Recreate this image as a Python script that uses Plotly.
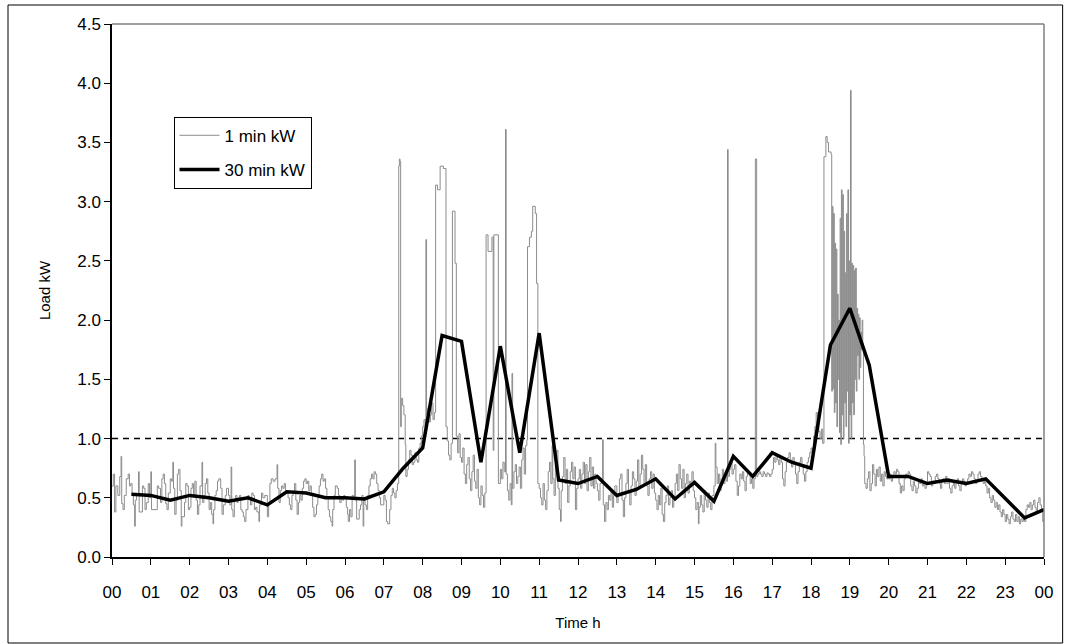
import plotly.graph_objects as go

# Half-hourly mean demand, stamped at the end of each 30 min interval (hours)
half_hour_end = [0.5 * (i + 1) for i in range(48)]
kw_30min = [
    0.53, 0.52, 0.48, 0.52, 0.50, 0.47, 0.50, 0.44, 0.55, 0.54, 0.50, 0.50,
    0.49, 0.55, 0.75, 0.92, 1.87, 1.82, 0.80, 1.78, 0.88, 1.89, 0.65, 0.62,
    0.68, 0.52, 0.57, 0.66, 0.49, 0.63, 0.47, 0.85, 0.68, 0.88, 0.80, 0.75,
    1.79, 2.10, 1.62, 0.68, 0.68, 0.62, 0.65, 0.62, 0.66, 0.50, 0.33, 0.40,
]

# One-minute meter log: minute of day at which the reading changes, and the new reading (kW)
change_minute = [
    0, 2, 4, 6, 9, 12, 14, 15, 17, 19, 22, 25, 27, 29, 31, 33, 35, 36, 38, 41, 42, 47, 49, 51, 53, 56, 58,
    60, 61, 68, 70, 72, 75, 77, 79, 81, 83, 85, 87, 90, 92, 94, 95, 97, 99, 101, 103, 105, 107, 108, 112, 114, 116, 118,
    120, 122, 124, 126, 128, 130, 132, 134, 136, 139, 140, 142, 144, 146, 148, 150, 152, 154, 156, 157, 159, 161, 163, 165, 168, 170, 172, 175, 177,
    180, 182, 184, 185, 187, 189, 191, 193, 195, 197, 199, 201, 203, 205, 207, 210, 212, 214, 216, 218, 220, 222, 224, 227, 228, 231, 233, 236,
    240, 242, 244, 246, 249, 252, 255, 256, 258, 260, 262, 264, 266, 268, 270, 272, 274, 276, 278, 280, 282, 284, 286, 288, 290, 292, 294, 296, 298,
    300, 302, 304, 306, 308, 310, 312, 314, 316, 318, 320, 322, 324, 326, 328, 330, 332, 334, 336, 338, 340, 341, 343, 345, 348, 350, 352, 354, 356, 358,
    360, 362, 364, 365, 367, 369, 371, 373, 375, 376, 378, 382, 384, 386, 388, 389, 391, 393, 395, 397, 399, 401, 403, 405, 407, 409, 411, 413, 415,
    420, 422, 424, 426, 429, 431, 433, 435, 437, 439, 441, 443, 444, 445, 446, 447, 449, 451, 453, 454, 456, 458, 460, 462, 464, 466, 468, 470, 472, 474, 476, 478,
    480, 482, 484, 485, 486, 488, 490, 492, 494, 496, 498, 500, 503, 507, 512, 516, 518, 520, 522, 524, 526, 530, 532, 534, 536, 538,
    540, 542, 544, 546, 548, 550, 552, 554, 556, 558, 560, 562, 564, 566, 568, 570, 572, 574, 576, 578, 581, 587, 589, 590, 597,
    600, 602, 604, 606, 608, 609, 611, 613, 615, 617, 618, 619, 621, 623, 625, 627, 629, 631, 633, 635, 637, 639, 641, 642, 645, 648, 650, 654, 656, 658,
    660, 662, 664, 666, 668, 670, 672, 674, 676, 678, 680, 681, 683, 685, 687, 689, 691, 693, 694, 696, 698, 700, 702, 704, 706, 708, 710, 712, 714, 716, 718,
    720, 722, 724, 726, 728, 730, 732, 734, 736, 738, 740, 742, 744, 746, 748,
    750, 752, 754, 756, 758, 759, 761, 763, 765, 767, 769, 771, 773, 775, 777,
    780, 782, 784, 786, 788, 790, 792, 794, 796, 798, 800, 802, 804, 806, 808,
    810, 812, 814, 816, 818, 820, 822, 824, 826, 828, 830, 832, 834, 836, 838,
    840, 842, 844, 846, 848, 850, 852, 854, 856, 858, 860, 862, 864, 866, 868,
    870, 872, 874, 876, 878, 880, 882, 884, 886, 888, 890, 892, 894, 896, 898,
    900, 902, 904, 906, 907, 909, 911, 913, 915, 917, 919, 921, 923, 925, 927,
    930, 932, 933, 935, 937, 939, 941, 943, 945, 947, 949, 951, 952, 954, 956, 958,
    960, 962, 964, 966, 968, 970, 972, 974, 976, 978, 980, 982, 984, 986, 988,
    990, 992, 994, 996, 998, 1000, 1002, 1004, 1006, 1008, 1010, 1012, 1014, 1016, 1018,
    1020, 1022, 1024, 1026, 1028, 1030, 1032, 1034, 1036, 1038, 1040, 1042, 1044, 1046, 1048,
    1050, 1052, 1054, 1056, 1058, 1060, 1062, 1064, 1066, 1068, 1070, 1072, 1074, 1076, 1078,
    1080, 1082, 1084, 1086, 1088, 1090, 1092, 1094, 1096, 1098, 1100, 1103, 1105, 1107, 1111,
    1112, 1113, 1114, 1115, 1116, 1117, 1118, 1119, 1120, 1121, 1122, 1123, 1124, 1125, 1126, 1127, 1128, 1129,
    1130, 1131, 1132, 1133, 1134, 1135, 1136, 1137, 1138, 1139,
    1140, 1141, 1142, 1143, 1144, 1145, 1146, 1147, 1148, 1149, 1150, 1151, 1152, 1153, 1154, 1155, 1156, 1157,
    1158, 1159, 1160, 1161, 1162, 1163, 1165, 1167, 1169, 1171, 1173, 1175, 1177, 1179, 1181, 1183, 1185, 1187, 1189, 1191, 1193, 1195, 1197, 1199,
    1200, 1202, 1204, 1206, 1208, 1210, 1212, 1214, 1216, 1218, 1220, 1222, 1224, 1226, 1228,
    1230, 1232, 1234, 1236, 1238, 1240, 1242, 1244, 1246, 1248, 1250, 1252, 1254, 1256, 1258,
    1260, 1262, 1264, 1266, 1268, 1270, 1272, 1274, 1276, 1278, 1280, 1282, 1284, 1286, 1288,
    1290, 1292, 1294, 1296, 1298, 1300, 1302, 1304, 1306, 1308, 1310, 1312, 1314, 1316, 1318,
    1320, 1322, 1324, 1326, 1328, 1330, 1332, 1334, 1336, 1338, 1340, 1342, 1344, 1346, 1348,
    1350, 1352, 1354, 1356, 1358, 1360, 1362, 1364, 1366, 1368, 1370, 1372, 1374, 1376, 1378,
    1380, 1382, 1384, 1386, 1388, 1390, 1392, 1394, 1396, 1398, 1400, 1402, 1404, 1406, 1408,
    1410, 1412, 1414, 1416, 1418, 1420, 1422, 1424, 1426, 1428, 1430, 1432, 1434, 1436, 1438, 1440,
]
change_kw = [
    0.60, 0.70, 0.38, 0.60, 0.52, 0.68, 0.85, 0.45, 0.40, 0.52, 0.66, 0.70, 0.60, 0.62, 0.52, 0.44, 0.26, 0.48, 0.52, 0.72, 0.38, 0.60, 0.58, 0.40, 0.46, 0.62, 0.50,
    0.72, 0.40, 0.40, 0.60, 0.58, 0.46, 0.66, 0.70, 0.62, 0.45, 0.40, 0.54, 0.66, 0.64, 0.80, 0.58, 0.36, 0.48, 0.70, 0.74, 0.56, 0.26, 0.34, 0.46, 0.62, 0.60, 0.40,
    0.42, 0.58, 0.62, 0.52, 0.64, 0.48, 0.36, 0.44, 0.60, 0.80, 0.46, 0.52, 0.62, 0.66, 0.54, 0.40, 0.46, 0.36, 0.28, 0.40, 0.52, 0.56, 0.64, 0.66, 0.58, 0.36, 0.44, 0.52, 0.58,
    0.52, 0.44, 0.76, 0.40, 0.34, 0.48, 0.52, 0.46, 0.50, 0.52, 0.40, 0.38, 0.34, 0.30, 0.40, 0.52, 0.50, 0.44, 0.54, 0.52, 0.40, 0.42, 0.38, 0.30, 0.44, 0.54, 0.50, 0.52,
    0.34, 0.44, 0.62, 0.66, 0.64, 0.66, 0.78, 0.58, 0.46, 0.56, 0.60, 0.58, 0.62, 0.56, 0.54, 0.50, 0.44, 0.40, 0.52, 0.54, 0.62, 0.48, 0.36, 0.46, 0.52, 0.48, 0.58, 0.64, 0.66,
    0.62, 0.64, 0.56, 0.60, 0.52, 0.42, 0.34, 0.36, 0.44, 0.50, 0.60, 0.66, 0.70, 0.64, 0.66, 0.58, 0.50, 0.40, 0.34, 0.30, 0.26, 0.40, 0.52, 0.60, 0.58, 0.52, 0.46, 0.50, 0.48, 0.52,
    0.50, 0.42, 0.36, 0.30, 0.40, 0.34, 0.52, 0.50, 0.82, 0.48, 0.32, 0.40, 0.44, 0.52, 0.26, 0.48, 0.44, 0.40, 0.52, 0.60, 0.66, 0.70, 0.66, 0.72, 0.70, 0.62, 0.56, 0.50, 0.44,
    0.52, 0.48, 0.30, 0.28, 0.40, 0.52, 0.58, 0.54, 0.50, 0.56, 0.62, 3.30, 3.36, 3.34, 1.10, 1.34, 1.28, 1.20, 0.95, 0.68, 0.74, 0.82, 0.90, 0.86, 0.78, 0.80, 0.88, 0.82, 0.80, 0.92, 0.96, 1.02,
    1.10, 1.16, 1.06, 2.68, 1.20, 1.26, 1.14, 1.20, 1.30, 1.16, 1.22, 3.14, 3.10, 3.30, 3.28, 1.10, 0.98, 0.86, 0.82, 0.96, 2.92, 2.48, 1.02, 0.88, 1.04, 0.84,
    0.80, 0.92, 0.70, 0.62, 0.78, 0.84, 0.66, 0.56, 0.72, 0.86, 0.64, 0.58, 0.74, 0.50, 0.44, 0.60, 0.52, 0.42, 0.54, 2.72, 2.58, 2.70, 0.90, 2.72, 0.62,
    0.74, 0.66, 0.80, 0.72, 3.61, 0.70, 0.56, 0.48, 0.62, 0.44, 1.55, 0.58, 0.72, 0.78, 0.62, 0.68, 0.76, 0.58, 0.82, 0.92, 0.70, 0.94, 0.99, 2.62, 2.70, 2.75, 2.96, 2.90, 2.31, 0.62,
    0.58, 0.50, 0.44, 0.62, 0.48, 0.40, 0.56, 0.72, 0.80, 0.62, 0.94, 0.66, 0.52, 0.78, 0.90, 0.58, 0.40, 0.30, 0.56, 0.68, 0.84, 0.62, 0.74, 0.46, 0.60, 0.72, 0.80, 0.66, 0.76, 0.40, 0.58,
    0.66, 0.74, 0.58, 0.70, 0.80, 0.62, 0.78, 0.56, 0.72, 0.84, 0.60, 0.76, 0.58, 0.70, 0.62,
    0.56, 0.48, 0.62, 0.66, 0.99, 0.44, 0.30, 0.46, 0.40, 0.52, 0.48, 0.56, 0.42, 0.52, 0.60,
    0.46, 0.52, 0.66, 0.70, 0.48, 0.34, 0.50, 0.62, 0.74, 0.56, 0.44, 0.60, 0.72, 0.66, 0.52,
    0.64, 0.82, 0.58, 0.70, 0.86, 0.74, 0.62, 0.78, 0.60, 0.52, 0.66, 0.72, 0.58, 0.70, 0.54,
    0.48, 0.40, 0.52, 0.44, 0.58, 0.36, 0.30, 0.46, 0.52, 0.60, 0.44, 0.50, 0.56, 0.42, 0.48,
    0.62, 0.70, 0.56, 0.78, 0.66, 0.58, 0.74, 0.50, 0.62, 0.70, 0.54, 0.64, 0.60, 0.72, 0.56,
    0.50, 0.40, 0.46, 0.28, 0.42, 0.52, 0.44, 0.38, 0.56, 0.48, 0.42, 0.54, 0.46, 0.40, 0.52,
    0.60, 0.96, 0.76, 0.62, 0.70, 0.56, 0.66, 0.74, 0.62, 0.70, 0.64, 3.44, 0.68, 0.74, 0.80, 0.70,
    0.74, 0.78, 0.64, 0.52, 0.60, 0.70, 0.66, 0.72, 0.64, 0.56, 0.68, 0.72, 0.70, 0.62, 0.66,
    0.58, 0.66, 3.36, 0.68, 0.70, 0.72, 0.70, 0.68, 0.72, 0.70, 0.68, 0.71, 0.70, 0.68, 0.70,
    0.74, 0.84, 0.80, 0.86, 0.82, 0.78, 0.84, 0.80, 0.66, 0.60, 0.72, 0.80, 0.84, 0.88, 0.82,
    0.76, 0.84, 0.80, 0.70, 0.62, 0.72, 0.80, 0.84, 0.76, 0.70, 0.64, 0.72, 0.80, 0.84, 0.88,
    0.92, 0.86, 1.02, 1.10, 1.22, 1.18, 1.06, 1.00, 1.08, 0.96, 3.38, 3.55, 3.50, 3.42, 3.40,
    1.40, 2.96, 1.42, 2.90, 1.22, 2.65, 1.30, 2.60, 1.10, 2.22, 1.50, 2.00, 1.05, 2.86, 0.95, 3.10, 1.20, 3.06,
    1.00, 2.75, 1.30, 2.40, 1.10, 2.90, 1.40, 3.10, 0.96, 2.50,
    1.20, 3.94, 1.00, 2.48, 1.30, 2.46, 1.20, 2.42, 1.50, 2.44, 1.40, 2.10, 1.70, 2.05, 1.50, 2.02, 1.60, 1.90,
    1.75, 2.00, 1.80, 0.95, 0.85, 0.62, 0.58, 0.66, 0.72, 0.56, 0.62, 0.78, 0.70, 0.60, 0.74, 0.68, 0.76, 0.64, 0.70, 0.60, 0.72, 0.68, 0.66, 0.70,
    0.66, 0.70, 0.64, 0.68, 0.72, 0.70, 0.74, 0.72, 0.62, 0.54, 0.60, 0.56, 0.66, 0.70, 0.68,
    0.72, 0.70, 0.60, 0.56, 0.64, 0.60, 0.54, 0.58, 0.64, 0.62, 0.66, 0.60, 0.64, 0.58, 0.62,
    0.72, 0.70, 0.68, 0.60, 0.64, 0.62, 0.68, 0.70, 0.66, 0.62, 0.58, 0.64, 0.66, 0.62, 0.68,
    0.62, 0.66, 0.58, 0.54, 0.60, 0.64, 0.58, 0.62, 0.66, 0.60, 0.56, 0.62, 0.66, 0.64, 0.60,
    0.62, 0.66, 0.70, 0.68, 0.72, 0.70, 0.66, 0.62, 0.64, 0.70, 0.72, 0.68, 0.64, 0.62, 0.66,
    0.60, 0.54, 0.58, 0.50, 0.46, 0.52, 0.48, 0.42, 0.46, 0.40, 0.44, 0.38, 0.34, 0.40, 0.36,
    0.30, 0.36, 0.32, 0.28, 0.34, 0.38, 0.32, 0.30, 0.36, 0.30, 0.34, 0.28, 0.32, 0.30, 0.34,
    0.30, 0.40, 0.44, 0.42, 0.46, 0.40, 0.44, 0.48, 0.42, 0.38, 0.46, 0.50, 0.44, 0.40, 0.30, 0.32,
]

threshold_kw = 1.0
hour_ticks = list(range(25))
hour_labels = [f"{h % 24:02d}" for h in hour_ticks]
load_ticks = [0.5 * i for i in range(10)]

FONT = "Liberation Sans, Arial, sans-serif"

fig = go.Figure()

fig.add_trace(go.Scatter(
    x=[0, 24], y=[threshold_kw, threshold_kw],
    mode="lines", line=dict(color="black", width=1.5, dash="6px,5px"),
    showlegend=False, hoverinfo="skip",
))

fig.add_trace(go.Scatter(
    x=[m / 60 for m in change_minute], y=change_kw,
    mode="lines", line=dict(color="#8c8c8c", width=1, shape="hv"),
    name="1 min kW", legendgroup="a",
))

fig.add_trace(go.Scatter(
    x=half_hour_end, y=kw_30min,
    mode="lines", line=dict(color="black", width=3.5),
    name="30 min kW", legendgroup="b",
))

fig.update_layout(
    width=1065, height=644,
    margin=dict(l=112, r=12, t=24, b=87),
    paper_bgcolor="white", plot_bgcolor="white",
    font=dict(family=FONT, size=16, color="black"),
    legend=dict(
        x=0.066, y=0.826, xanchor="left", yanchor="top",
        bordercolor="black", borderwidth=1, bgcolor="white",
        font=dict(size=17), tracegroupgap=9, itemwidth=40,
    ),
    shapes=[
        # outer chart frame
        dict(type="rect", xref="paper", yref="paper",
             x0=-105 / 941, x1=1.02, y0=-86 / 533, y1=1 + 19 / 533,
             line=dict(color="black", width=1), layer="below"),
        # plot-area frame (top and right edges)
        dict(type="line", xref="paper", yref="paper", x0=0, x1=1, y0=1, y1=1,
             line=dict(color="#808080", width=1.5)),
        dict(type="line", xref="paper", yref="paper", x0=1, x1=1, y0=0, y1=1,
             line=dict(color="#808080", width=1.5)),
    ],
)

fig.update_xaxes(
    range=[0, 24], tickvals=hour_ticks, ticktext=hour_labels,
    showgrid=False, zeroline=False,
    showline=True, linecolor="black", linewidth=1.5,
    ticks="outside", ticklen=6, tickcolor="black",
    tickfont=dict(size=17), ticklabelstandoff=13,
    title=dict(text="Time h", font=dict(size=15), standoff=16),
)
fig.update_yaxes(
    range=[0, 4.5], tickvals=load_ticks, tickformat=".1f",
    showgrid=False, zeroline=False,
    showline=True, linecolor="black", linewidth=1.5,
    ticks="outside", ticklen=6, tickcolor="black",
    tickfont=dict(size=17),
    title=dict(text="Load kW", font=dict(size=15), standoff=23),
)

fig.write_html("out.html")
